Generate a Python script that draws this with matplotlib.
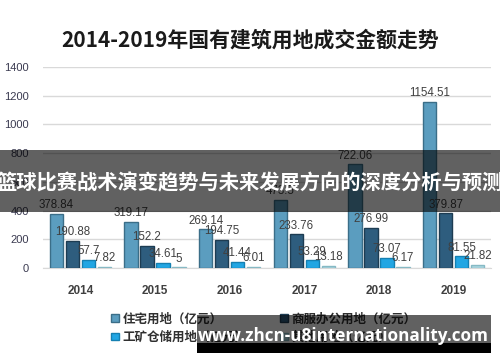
import numpy as np
import matplotlib
matplotlib.use('Agg')
import matplotlib.pyplot as plt
from matplotlib.patches import Patch, Rectangle

plt.rcParams['font.family'] = ['Noto Sans CJK SC', 'DejaVu Sans']

years = ['2014', '2015', '2016', '2017', '2018', '2019']
series_names = ['住宅用地（亿元）', '商服办公用地（亿元）', '工矿仓储用地（亿元）', '其他用地（亿元）']
residential = [378.84, 319.17, 269.14, 473.5, 722.06, 1154.51]
commercial = [190.88, 152.2, 194.75, 233.76, 276.99, 379.87]
industrial = [57.7, 34.61, 41.44, 53.29, 73.07, 81.55]
other = [7.82, 5, 6.01, 13.18, 6.17, 21.82]

title = '2014-2019年国有建筑用地成交金额走势'
banner = '篮球比赛战术演变趋势与未来发展方向的深度分析与预测'
watermark = 'www.zhcn-u8internationality.com'

fills = ['#5b9dbf', '#2e5d7e', '#22a6e3', '#a9d6e0']
edges = ['#3b6e88', '#1d3c52', '#1580b2', '#86b9c4']

W, H = 500, 362
fig = plt.figure(figsize=(W / 100, H / 100), dpi=100)

def px(x0, y0, x1, y1):
    # pixel box (from top-left) -> figure fraction rect
    return [x0 / W, 1 - y1 / H, (x1 - x0) / W, (y1 - y0) / H]

ax = fig.add_axes(px(43, 67, 491, 268))

x = np.arange(len(years))
width = 0.175
step = 0.214
for i, vals in enumerate([residential, commercial, industrial, other]):
    bars = ax.bar(x + (i - 1.5) * step, vals, width, color=fills[i],
                  edgecolor=edges[i], linewidth=1.0, label=series_names[i], zorder=3)
    ax.bar_label(bars, labels=[f'{v:g}' for v in vals], padding=2,
                 fontsize=8.3, color='#404040', family='Liberation Sans', zorder=4)

ax.set_xlim(-0.5, len(years) - 0.5)
ax.set_ylim(0, 1400)
ax.set_yticks(range(0, 1401, 200))
ax.set_xticks(x)
ax.set_xticklabels(years, fontsize=8.5, fontweight='bold', color='#404040',
                   family='Liberation Sans')
for t in ax.get_yticklabels():
    t.set_family('Liberation Sans')
    t.set_fontsize(8)
    t.set_color('#3a3a50')
ax.tick_params(axis='y', length=0, pad=10)
ax.tick_params(axis='x', length=0, pad=12)
ax.grid(axis='y', color='#d9d9d9', linewidth=1, zorder=0)
for s in ['top', 'right', 'left']:
    ax.spines[s].set_visible(False)
ax.spines['bottom'].set_color('#d9d9d9')

fig.text(0.5, 1 - 40 / H, title, ha='center', va='center', fontsize=15,
         fontweight='bold', color='#1a1a1a')

# legend laid out row-wise like the reference
order = [0, 2, 1, 3]
handles = [Patch(facecolor=fills[i], edgecolor=edges[i]) for i in order]
fig.legend(handles, [series_names[i] for i in order], loc='upper left',
           bbox_to_anchor=(100 / W, 1 - 301 / H),
           ncol=2, frameon=False, handlelength=0.6, handleheight=0.6,
           handletextpad=0.3, columnspacing=2.6, labelspacing=0.45,
           labelcolor='#303030', prop={'weight': 'bold', 'size': 9})

# overlay banner across the middle
fig.patches.append(Rectangle((0, 1 - 212 / H), 1, 62 / H, transform=fig.transFigure,
                             facecolor='black', alpha=0.62, zorder=10))
fig.text(0.5, 1 - 183 / H, banner, ha='center', va='center', fontsize=14.6,
         fontweight='bold', color='white', zorder=11)

# watermark box
fig.patches.append(Rectangle((197 / W, 1 - 343 / H), 294 / W, 28 / H, transform=fig.transFigure,
                             facecolor='black', alpha=0.62, zorder=10))
fig.patches.append(Rectangle((197 / W, 1 - 353 / H), 294 / W, 10 / H, transform=fig.transFigure,
                             facecolor='black', zorder=10))
fig.text(343 / W, 1 - 336 / H, watermark, ha='center', va='center', fontsize=12.3,
         fontweight='bold', color='white', family='Open Sans', zorder=11)

fig.savefig('out.png', dpi=100)
